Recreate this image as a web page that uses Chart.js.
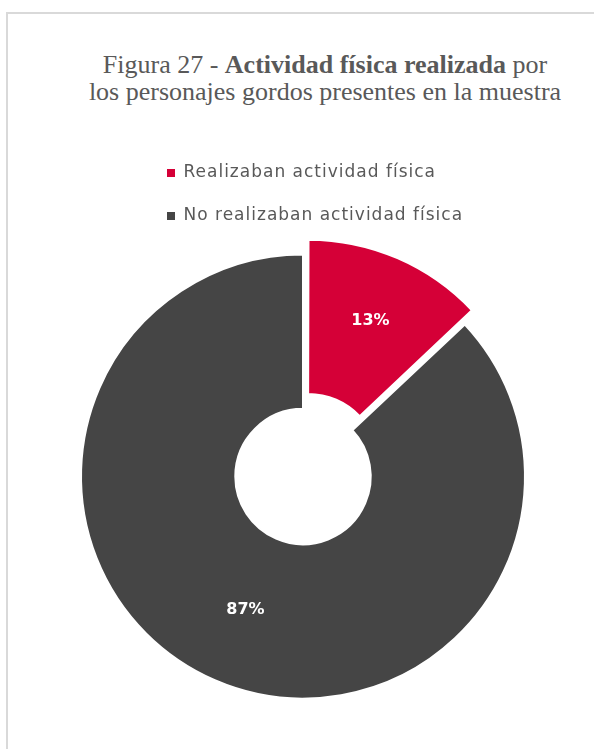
<!DOCTYPE html>
<html lang="es">
<head>
<meta charset="UTF-8">
<title>Figura 27 - Actividad física realizada</title>
<script src="https://cdn.jsdelivr.net/npm/chart.js@4.4.1/dist/chart.umd.min.js"></script>
<style>
  html, body { margin: 0; padding: 0; background: #ffffff; overflow: hidden; }
  /* marco gris de la figura (solo bordes superior e izquierdo visibles) */
  #marco {
    position: absolute; left: 6px; top: 12px; width: 700px; height: 800px;
    border-left: 2px solid #d9d9d9; border-top: 2px solid #d9d9d9;
  }
  #titulo {
    position: absolute; left: 0; top: 51px; width: 650px;
    text-align: center; color: #595959;
    font-family: "Liberation Serif", "Times New Roman", serif;
    font-size: 26px; line-height: 27px;
  }
  #zona { position: absolute; left: 0; top: 0; width: 594px; height: 749px; }
</style>
</head>
<body>
<div id="marco"></div>
<div id="titulo">Figura 27 - <b>Actividad física realizada</b> por<br>los personajes gordos presentes en la muestra</div>
<div id="zona">
  <canvas id="canvas"></canvas>
</div>

<script>
// datos del gráfico
var categorias = ['Realizaban actividad física', 'No realizaban actividad física'];
var porcentajes = [13, 87];

var fuente = '"DejaVu Sans", sans-serif';

// texto de la leyenda algo más espaciado
var espaciadoLeyenda = {
  id: 'espaciadoLeyenda',
  beforeDraw: function(chart) { chart.ctx.letterSpacing = '1px'; },
  afterDraw: function(chart) { chart.ctx.letterSpacing = '0px'; }
};

// escribe el porcentaje en el centro de cada sector
var etiquetasPorcentaje = {
  id: 'etiquetasPorcentaje',
  afterDatasetsDraw: function(chart) {
    var ctx = chart.ctx;
    var meta = chart.getDatasetMeta(0);
    ctx.save();
    ctx.letterSpacing = '0px';
    ctx.fillStyle = '#ffffff';
    ctx.font = 'bold 16px ' + fuente;
    ctx.textAlign = 'center';
    ctx.textBaseline = 'middle';
    meta.data.forEach(function(arco, i) {
      var p = arco.tooltipPosition();
      ctx.fillText(porcentajes[i] + '%', p.x, p.y);
    });
    ctx.restore();
  }
};

window.onload = function() {
  var ctx = document.getElementById('canvas').getContext('2d');
  window.myChart = new Chart(ctx, {
    type: 'doughnut',
    data: {
      labels: categorias,
      datasets: [{
        data: porcentajes,
        backgroundColor: ['#d50037', '#454545'],
        borderColor: '#ffffff',
        borderWidth: 2,
        offset: [50, 0],      // el sector rojo va separado
        hoverOffset: 0,
        clip: false
      }]
    },
    options: {
      responsive: true,
      maintainAspectRatio: false,
      animation: false,
      radius: 222,
      cutout: '30.5%',
      layout: { padding: { left: 141, right: 129, top: 138.5, bottom: 30.5 } },
      plugins: {
        legend: {
          position: 'top',
          align: 'start',
          labels: {
            boxWidth: 8,
            boxHeight: 8,
            padding: 26,
            color: '#595959',
            font: { family: fuente, size: 17 },
            generateLabels: function(chart) {
              var items = Chart.overrides.doughnut.plugins.legend.labels.generateLabels(chart);
              items.forEach(function(it) { it.lineWidth = 0; });
              return items;
            }
          }
        },
        tooltip: { enabled: false }
      }
    },
    plugins: [espaciadoLeyenda, etiquetasPorcentaje]
  });
};
</script>
</body>
</html>
